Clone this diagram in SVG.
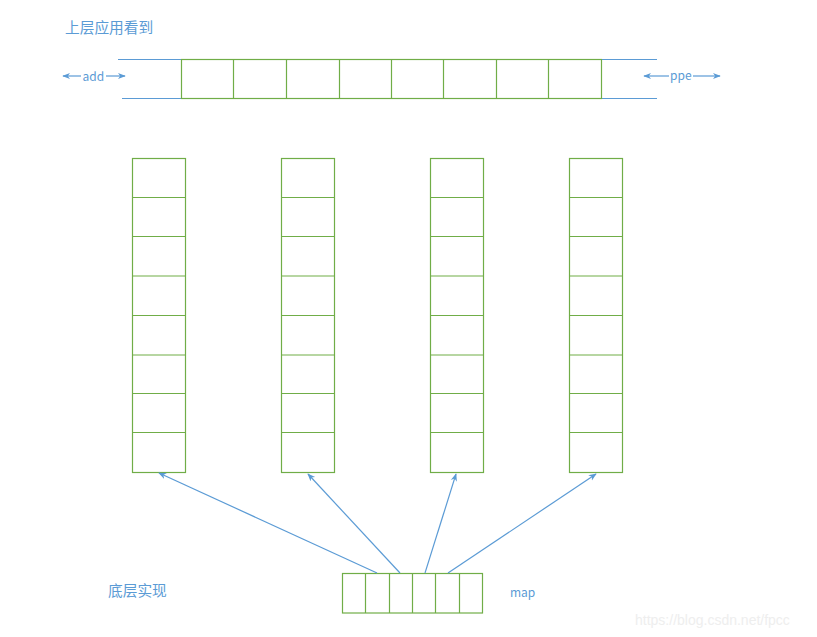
<svg xmlns="http://www.w3.org/2000/svg" width="817" height="637" viewBox="0 0 817 637">
<style>
.g{fill:none;stroke:#70AD47;stroke-width:1.2}
.b{fill:none;stroke:#5B9BD5;stroke-width:1.2}
.t{fill:#5B9BD5;font-family:"Noto Sans CJK SC","Noto Sans",sans-serif}
</style>
<defs>
<marker id="ah" viewBox="0 0 10 10" refX="9" refY="5" markerWidth="8" markerHeight="8" orient="auto-start-reverse" markerUnits="userSpaceOnUse">
<path d="M0,1 L10,5 L0,9 L3,5 Z" fill="#5B9BD5"/>
</marker>
<g id="col">
<rect class="g" x="0" y="0" width="53" height="314"/>
<path class="g" d="M0,39H53M0,78H53M0,117.5H53M0,157H53M0,196.5H53M0,235H53M0,274H53"/>
</g>
</defs>
<rect width="817" height="637" fill="#fff"/>
<text class="t" x="65" y="33" font-size="14.7">上层应用看到</text>
<g id="topbar">
<path class="b" d="M118,59.5H181.5M122,98.5H181.5M601.5,59.5H657M601.5,98.5H657"/>
<rect class="g" x="181.5" y="59.5" width="420" height="39"/>
<path class="g" d="M233.5,59.5V98.5M286.5,59.5V98.5M339.5,59.5V98.5M391.5,59.5V98.5M443.5,59.5V98.5M496.5,59.5V98.5M548.5,59.5V98.5"/>
</g>
<g id="add">
<path class="b" d="M81,76H63" marker-end="url(#ah)"/>
<path class="b" d="M106,76H125" marker-end="url(#ah)"/>
<text class="t" x="82.5" y="80.5" font-size="12">add</text>
</g>
<g id="ppe">
<path class="b" d="M669,76H644" marker-end="url(#ah)"/>
<path class="b" d="M693,76H720" marker-end="url(#ah)"/>
<text class="t" x="670" y="80" font-size="12">ppe</text>
</g>
<g id="col1" transform="translate(132.5,158.5)"><use href="#col"/></g>
<g id="col2" transform="translate(281.5,158.5)"><use href="#col"/></g>
<g id="col3" transform="translate(430.5,158.5)"><use href="#col"/></g>
<g id="col4" transform="translate(569.5,158.5)"><use href="#col"/></g>
<g id="mapbox">
<rect class="g" x="342.5" y="573.5" width="140" height="39.5"/>
<path class="g" d="M365.5,573.5V613M389.5,573.5V613M412.5,573.5V613M435.5,573.5V613M459.5,573.5V613"/>
</g>
<g id="connectors">
<path class="b" d="M377,573L159,473" marker-end="url(#ah)"/>
<path class="b" d="M400,573L308,474" marker-end="url(#ah)"/>
<path class="b" d="M425,573L456,474" marker-end="url(#ah)"/>
<path class="b" d="M448,573L596,474" marker-end="url(#ah)"/>
</g>
<text class="t" x="108" y="596" font-size="14.7">底层实现</text>
<text class="t" x="510" y="597" font-size="12">map</text>
<text x="635" y="625" font-size="14" fill="#eeeeee" font-family="Liberation Sans,Arial,sans-serif">https://blog.csdn.net/fpcc</text>
</svg>
